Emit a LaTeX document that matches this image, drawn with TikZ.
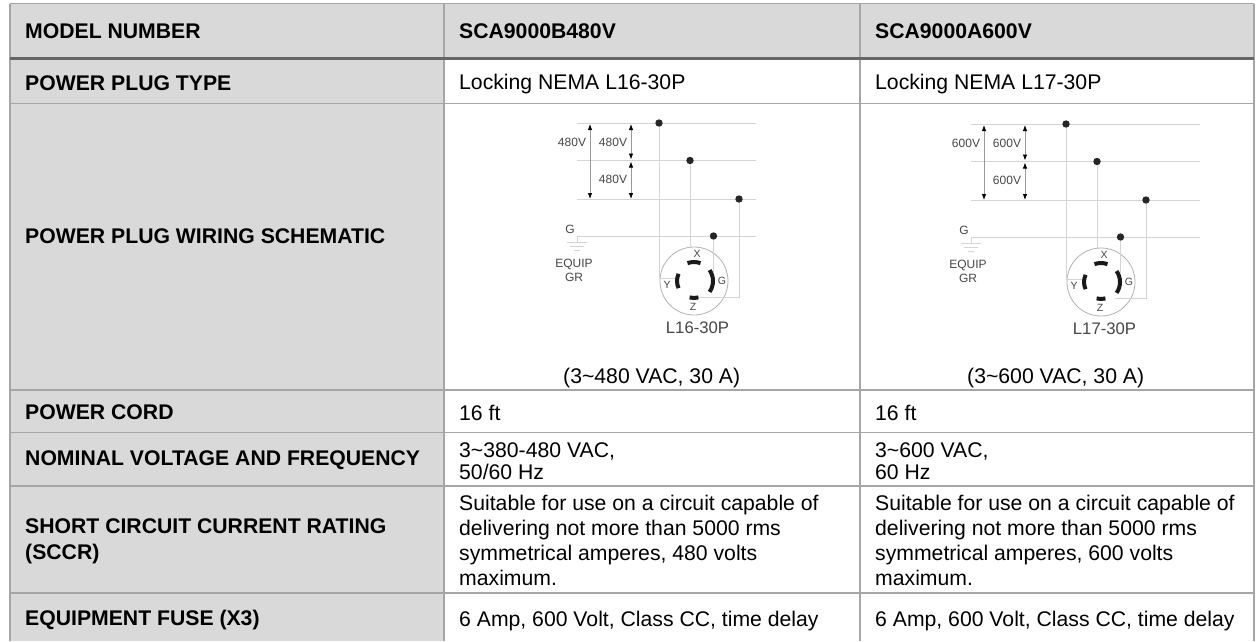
\documentclass[tikz,border=0pt]{standalone}
\usepackage{fontspec}
\usepackage{tikz}
\usetikzlibrary{arrows.meta}
\setmainfont{Liberation Sans}
\definecolor{headgrey}{RGB}{217,217,217}
\definecolor{rulegrey}{RGB}{166,166,166}
\definecolor{wiregrey}{RGB}{212,212,212}
\definecolor{inkgrey}{RGB}{70,70,70}
\tikzset{
  rowlabel/.style = {anchor = west, inner sep = 0pt, align = left, font = \fontsize{21.2}{26}\selectfont\bfseries, text = black},
  celltext/.style = {anchor = west, inner sep = 0pt, align = left, font = \fontsize{21.2}{25}\selectfont, text = black},
  celltight/.style = {celltext, font = \fontsize{21.2}{22}\selectfont},
  wire/.style = {wiregrey, line width = 0.9pt},
  schemtext/.style = {inner sep = 0pt, align = center, font = \fontsize{12}{14.7}\selectfont, text = inkgrey},
  tinytext/.style = {inner sep = 0pt, font = \fontsize{10.5}{11}\selectfont, text = inkgrey},
  dot/.style = {circle, fill = black!85, inner sep = 0pt, minimum size = 7.4pt},
  volt/.style = {black!40, line width = 0.8pt, {Latex[length=6pt,width=4.5pt,black]}-{Latex[length=6pt,width=4.5pt,black]}},
  blade/.style = {black!90, line width = 4pt}
}
% one plug schematic: volts, plug name, shift of the wires, end of the lines, end of the Z wire
\newcommand{\plugschem}[5]{
  \draw [wire] (0, 0) -- (#4, 0);
  \draw [wire] (0, 37.5) -- (#4, 37.5);
  \draw [wire] (0, 76) -- (#4, 76);
  \draw [wire] (0, 113) -- (#4, 113);
  \draw [volt] (13, 1) -- (13, 76);
  \draw [volt] (54, 1) -- (54, 36.5);
  \draw [volt] (54, 38.5) -- (54, 76);
  \node [schemtext] (vall) at (-5, 19) {#1};
  \node [schemtext] (vtop) at (36, 19) {#1};
  \node [schemtext] (vbot) at (36, 56) {#1};
  % ground
  \node [schemtext] (gnd) at (-7, 106) {G};
  \draw [wire] (0, 113) -- (0, 119);
  \draw [wire] (-10, 119) -- (10, 119);
  \draw [wire, line width = 0.8pt] (-7, 123) -- (7, 123);
  \draw [wire, line width = 0.8pt] (-3, 127) -- (3, 127);
  \node [schemtext] (equip) at (-3, 147.5) {EQUIP\\GR};
  \begin{scope}[xshift = #3]
  % plug body
  \node [circle, draw = black!30, line width = 0.8pt, minimum size = 68pt, inner sep = 0pt] (plug) at (117, 158) {};
  \node [dot] (lx) at (82, 0) {};
  \node [dot] (ly) at (113, 37.5) {};
  \node [dot] (lz) at (162, 76) {};
  \node [dot] (lg) at (136.5, 113) {};
  \coordinate (bx) at (113, 124);
  \coordinate (by) at (82, 155);
  \coordinate (byend) at (98, 155);
  \coordinate (bz) at (162, 174);
  \coordinate (bg) at (136.5, 149);
  \draw [wire] (lx) -- (by) -- (byend);
  \draw [wire] (ly) -- (bx);
  \draw [wire] (lz) -- (bz) -- (#5, 174);
  \draw [wire] (lg) -- (bg);
  \draw [blade] (117, 158) ++(250 : 19) arc (250 : 290 : 19);
  \draw [blade] (117, 158) ++(155 : 17) arc (155 : 205 : 17);
  \draw [blade] (117, 158) ++(75 : 17) arc (75 : 105 : 17);
  \draw [blade] (117, 158) ++(-35 : 19) arc (-35 : 35 : 19);
  \node [tinytext] (px) at (120, 131) {X};
  \node [tinytext] (py) at (90, 162) {Y};
  \node [tinytext] (pz) at (116, 184) {Z};
  \node [tinytext] (pg) at (145, 158) {G};
  \node [schemtext, font = \fontsize{16.7}{18}\selectfont] (pname) at (120.5, 205) {#2};
  \end{scope}
}
\begin{document}
\begin{tikzpicture}[x = 1pt, y = -1pt]
\useasboundingbox (0, 0) rectangle (1259, 641);
% shaded cells
\fill [headgrey] (10, 3.5) rectangle (444, 641);
\fill [headgrey] (444, 3.5) rectangle (1254, 58);
% grid
\foreach \yline in {3.5, 103.5, 390, 432.5, 486, 593}
  \draw [rulegrey, line width = 1.2pt] (10, \yline) -- (1254, \yline);
\foreach \xline in {10, 444, 860, 1254}
  \draw [rulegrey, line width = 1.3pt] (\xline, 3.5) -- (\xline, 641);
\draw [black!60, line width = 2.4pt] (10, 58.5) -- (1254, 58.5);
% left column
\node [rowlabel] (model) at (25, 31.5) {MODEL NUMBER};
\node [rowlabel] (type) at (25, 83) {POWER PLUG TYPE};
\node [rowlabel] (schem) at (25, 236) {POWER PLUG WIRING SCHEMATIC};
\node [rowlabel] (cord) at (25, 412.5) {POWER CORD};
\node [rowlabel] (nominal) at (25, 460.5) {NOMINAL VOLTAGE AND FREQUENCY};
\node [rowlabel] (sccr) at (25, 541.5) {SHORT CIRCUIT CURRENT RATING\\(SCCR)};
\node [rowlabel] (fuse) at (25, 620) {EQUIPMENT FUSE (X3)};
% middle column
\node [rowlabel] (modela) at (459, 31.5) {SCA9000B480V};
\node [celltext] (typea) at (459, 84) {Locking NEMA L16-30P};
\node [celltext] (ratea) at (563, 378) {(3\textasciitilde480 VAC, 30 A)};
\node [celltext] (corda) at (459, 412.5) {16 ft};
\node [celltight] (nominala) at (459, 461) {3\textasciitilde380-480 VAC,\\50/60 Hz};
\node [celltext] (sccra) at (459, 540.5) {Suitable for use on a circuit capable of\\delivering not more than 5000 rms\\symmetrical amperes, 480 volts\\maximum.};
\node [celltext] (fusea) at (459, 621) {6 Amp, 600 Volt, Class CC, time delay};
% right column
\node [rowlabel] (modelb) at (875, 31.5) {SCA9000A600V};
\node [celltext] (typeb) at (875, 84) {Locking NEMA L17-30P};
\node [celltext] (rateb) at (967, 378) {(3\textasciitilde600 VAC, 30 A)};
\node [celltext] (cordb) at (875, 412.5) {16 ft};
\node [celltight] (nominalb) at (875, 461) {3\textasciitilde600 VAC,\\60 Hz};
\node [celltext] (sccrb) at (875, 540.5) {Suitable for use on a circuit capable of\\delivering not more than 5000 rms\\symmetrical amperes, 600 volts\\maximum.};
\node [celltext] (fuseb) at (875, 621) {6 Amp, 600 Volt, Class CC, time delay};
% schematics
\begin{scope}[shift = {(577, 123)}]
\plugschem{480V}{L16-30P}{0pt}{179}{116}
\end{scope}
\begin{scope}[shift = {(971, 124)}]
\plugschem{600V}{L17-30P}{13pt}{229}{131}
\end{scope}
\end{tikzpicture}
\end{document}
